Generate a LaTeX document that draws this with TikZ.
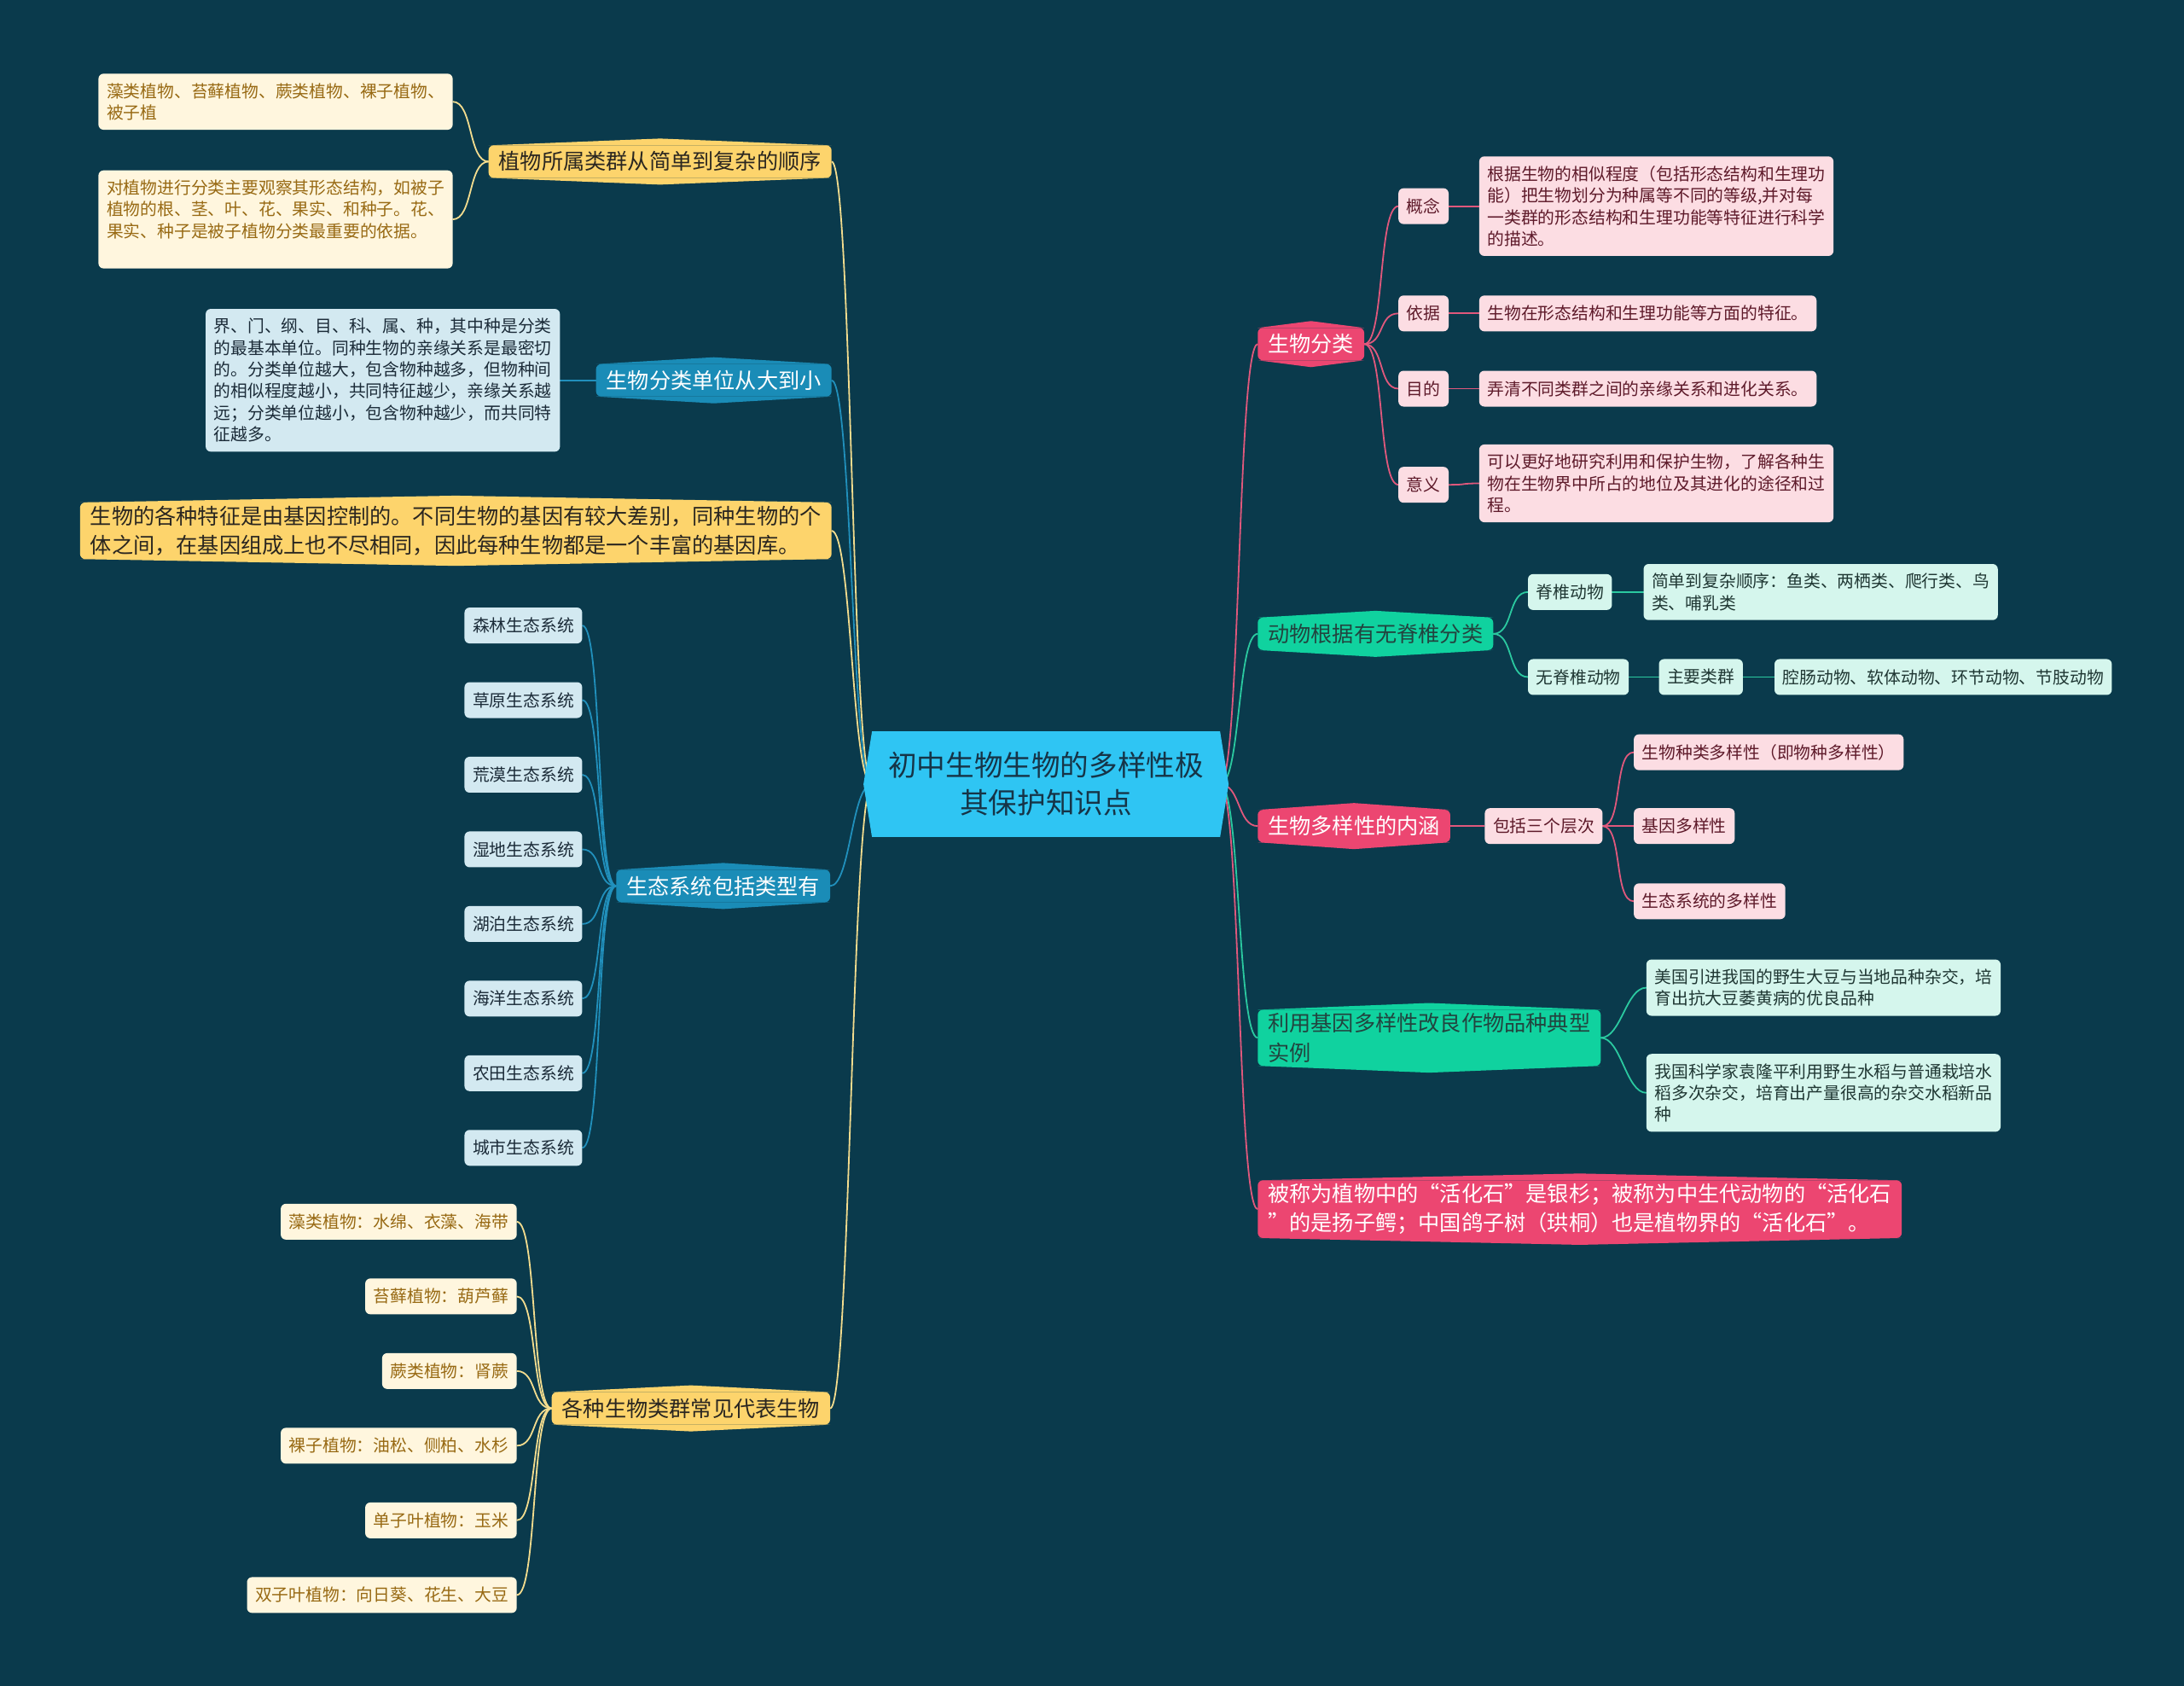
\documentclass[tikz,border=0pt]{standalone}
\usepackage{fontspec}
\setmainfont{Noto Sans CJK SC}
\usetikzlibrary{positioning}
\definecolor{MapBack}{HTML}{0A3A4C}
\definecolor{MapCore}{HTML}{2FC5F3}
\definecolor{MapCoreInk}{HTML}{163447}
\definecolor{MapGold}{HTML}{FDD46C}
\definecolor{MapGoldInk}{HTML}{2A2620}
\definecolor{MapGoldLine}{HTML}{F3DC8E}
\definecolor{MapCream}{HTML}{FFF6DE}
\definecolor{MapCreamInk}{HTML}{986A14}
\definecolor{MapBlue}{HTML}{1A8CB7}
\definecolor{MapBlueLine}{HTML}{2190BC}
\definecolor{MapIce}{HTML}{D3E9F1}
\definecolor{MapIceInk}{HTML}{1B2B38}
\definecolor{MapRose}{HTML}{EC4671}
\definecolor{MapRoseLine}{HTML}{E0587C}
\definecolor{MapBlush}{HTML}{FCDDE3}
\definecolor{MapBlushInk}{HTML}{5E1A2A}
\definecolor{MapMint}{HTML}{10D29F}
\definecolor{MapMintInk}{HTML}{22443F}
\definecolor{MapMintLine}{HTML}{2BC9A0}
\definecolor{MapFoam}{HTML}{D5F6ED}
\definecolor{MapFoamInk}{HTML}{1F3733}
\pgfdeclarelayer{paper}
\pgfdeclarelayer{wires}
\pgfsetlayers{paper,wires,main}
\tikzset{
  every node/.style={inner sep=0pt, outer sep=0pt},
  core/.style={fill=MapCore, text=MapCoreInk, minimum width=204pt, minimum height=62pt, align=center, font=\fontsize{16.8}{22}\selectfont},
  topic/.style={rounded corners=3pt, inner xsep=6pt, inner ysep=2pt, minimum height=19pt, align=left, font=\fontsize{12.6}{17.1}\selectfont},
  goldtopic/.style={topic, fill=MapGold, text=MapGoldInk},
  bluetopic/.style={topic, fill=MapBlue, text=white},
  rosetopic/.style={topic, fill=MapRose, text=white},
  minttopic/.style={topic, fill=MapMint, text=MapMintInk},
  leaf/.style={rounded corners=3pt, inner xsep=4.8pt, inner ysep=5.5pt, minimum height=21pt, align=left, font=\fontsize{9.9}{12.7}\selectfont},
  goldleaf/.style={leaf, fill=MapCream, text=MapCreamInk},
  iceleaf/.style={leaf, fill=MapIce, text=MapIceInk},
  blushleaf/.style={leaf, fill=MapBlush, text=MapBlushInk},
  foamleaf/.style={leaf, fill=MapFoam, text=MapFoamInk},
  link/.style={line width=0.9pt},
  goldlink/.style={link, draw=MapGoldLine},
  bluelink/.style={link, draw=MapBlueLine},
  roselink/.style={link, draw=MapRoseLine},
  mintlink/.style={link, draw=MapMintLine},
  toleft/.style={out=180, in=0, distance=12pt},
  toright/.style={out=0, in=180, distance=12pt},
}
\newcommand{\topicpeaks}[2]{%
  \fill[#2] (#1.north west) -- ([yshift=4pt]#1.north) -- (#1.north east) -- cycle;
  \fill[#2] (#1.south west) -- ([yshift=-4pt]#1.south) -- (#1.south east) -- cycle;}

\begin{document}
\begin{tikzpicture}[x=0.8163pt, y=-0.8163pt]
  \useasboundingbox (0,0) rectangle (1568,1210);
  \begin{pgfonlayer}{paper}
    \fill[MapBack] (0,0) rectangle (1568,1210);
  \end{pgfonlayer}

  % Central topic
  \node[core] (core) at (751,563) {初中生物生物的多样性极\\其保护知识点};
  \fill[MapCore] (core.north west) -- ([xshift=-5pt]core.west) -- (core.south west) -- cycle;
  \fill[MapCore] (core.north east) -- ([xshift=5pt]core.east) -- (core.south east) -- cycle;

  % Left: plant groups order
  \node[goldtopic, anchor=east] (seqplant) at (597,116) {植物所属类群从简单到复杂的顺序};
  \topicpeaks{seqplant}{MapGold}
  \node[goldleaf, anchor=east] (seqlist) at (325,73) {藻类植物、苔藓植物、蕨类植物、裸子植物、\\被子植};
  \node[goldleaf, anchor=east] (seqbasis) at (325,157.5) {对植物进行分类主要观察其形态结构，如被子\\植物的根、茎、叶、花、果实、和种子。花、\\果实、种子是被子植物分类最重要的依据。\\\mbox{}};

  % Left: classification ranks
  \node[bluetopic, anchor=east] (rank) at (597,273) {生物分类单位从大到小};
  \topicpeaks{rank}{MapBlue}
  \node[iceleaf, anchor=east] (ranknote) at (402,273) {界、门、纲、目、科、属、种，其中种是分类\\的最基本单位。同种生物的亲缘关系是最密切\\的。分类单位越大，包含物种越多，但物种间\\的相似程度越小，共同特征越少，亲缘关系越\\远；分类单位越小，包含物种越少，而共同特\\征越多。};

  % Left: genes
  \node[goldtopic, anchor=east] (gene) at (597,381) {生物的各种特征是由基因控制的。不同生物的基因有较大差别，同种生物的个\\体之间，在基因组成上也不尽相同，因此每种生物都是一个丰富的基因库。};
  \topicpeaks{gene}{MapGold}

  % Left: ecosystems
  \node[bluetopic, anchor=east] (eco) at (596,636) {生态系统包括类型有};
  \topicpeaks{eco}{MapBlue}
  \foreach \kind [count=\i] in {森林,草原,荒漠,湿地,湖泊,海洋,农田,城市}
    \node[iceleaf, anchor=east] (eco\i) at (418,{449+(\i-1)*53.57}) {\kind 生态系统};

  % Left: representative organisms
  \node[goldtopic, anchor=east] (reps) at (596,1011) {各种生物类群常见代表生物};
  \topicpeaks{reps}{MapGold}
  \foreach \sample [count=\i] in {藻类植物：水绵、衣藻、海带,苔藓植物：葫芦藓,蕨类植物：肾蕨,裸子植物：油松、侧柏、水杉,单子叶植物：玉米,双子叶植物：向日葵、花生、大豆}
    \node[goldleaf, anchor=east] (rep\i) at (371,{877+(\i-1)*53.6}) {\sample};

  % Right: classification
  \node[rosetopic, anchor=west] (classify) at (903,247) {生物分类};
  \topicpeaks{classify}{MapRose}
  \node[blushleaf, anchor=west] (concept) at (1004,148) {概念};
  \node[blushleaf, anchor=west] (conceptnote) at (1062,148) {根据生物的相似程度（包括形态结构和生理功\\能）把生物划分为种属等不同的等级,并对每\\一类群的形态结构和生理功能等特征进行科学\\的描述。};
  \node[blushleaf, anchor=west] (basis) at (1004,225) {依据};
  \node[blushleaf, anchor=west] (basisnote) at (1062,225) {生物在形态结构和生理功能等方面的特征。};
  \node[blushleaf, anchor=west] (aim) at (1004,279) {目的};
  \node[blushleaf, anchor=west] (aimnote) at (1062,279) {弄清不同类群之间的亲缘关系和进化关系。};
  \node[blushleaf, anchor=west] (meaning) at (1004,348) {意义};
  \node[blushleaf, anchor=west] (meaningnote) at (1062,347) {可以更好地研究利用和保护生物，了解各种生\\物在生物界中所占的地位及其进化的途径和过\\程。};

  % Right: vertebrates
  \node[minttopic, anchor=west] (spine) at (903,455) {动物根据有无脊椎分类};
  \topicpeaks{spine}{MapMint}
  \node[foamleaf, anchor=west] (verte) at (1097,425) {脊椎动物};
  \node[foamleaf, anchor=west] (vertenote) at (1180,425) {简单到复杂顺序：鱼类、两栖类、爬行类、鸟\\类、哺乳类};
  \node[foamleaf, anchor=west] (inverte) at (1097,486) {无脊椎动物};
  \node[foamleaf, anchor=west] (groups) at (1191,486) {主要类群};
  \node[foamleaf, anchor=west] (groupnote) at (1274,486) {腔肠动物、软体动物、环节动物、节肢动物};

  % Right: diversity levels
  \node[rosetopic, anchor=west] (diverse) at (903,593) {生物多样性的内涵};
  \topicpeaks{diverse}{MapRose}
  \node[blushleaf, anchor=west] (levels) at (1066,593) {包括三个层次};
  \node[blushleaf, anchor=west] (lvspecies) at (1173,540) {生物种类多样性（即物种多样性）};
  \node[blushleaf, anchor=west] (lvgene) at (1173,593) {基因多样性};
  \node[blushleaf, anchor=west] (lveco) at (1173,647) {生态系统的多样性};

  % Right: breeding examples
  \node[minttopic, anchor=west] (breed) at (903,745) {利用基因多样性改良作物品种典型\\实例};
  \topicpeaks{breed}{MapMint}
  \node[foamleaf, anchor=west] (soy) at (1182,709) {美国引进我国的野生大豆与当地品种杂交，培\\育出抗大豆萎黄病的优良品种};
  \node[foamleaf, anchor=west] (rice) at (1182,784.5) {我国科学家袁隆平利用野生水稻与普通栽培水\\稻多次杂交，培育出产量很高的杂交水稻新品\\种};

  % Right: living fossils
  \node[rosetopic, anchor=west] (fossil) at (903,868) {被称为植物中的“活化石”是银杉；被称为中生代动物的“活化石\\”的是扬子鳄；中国鸽子树（珙桐）也是植物界的“活化石”。};
  \topicpeaks{fossil}{MapRose}

  % Connectors
  \begin{pgfonlayer}{wires}
    \draw[goldlink] (core.west) to[toleft] (seqplant.east);
    \draw[bluelink] (core.west) to[toleft] (rank.east);
    \draw[goldlink] (core.west) to[toleft] (gene.east);
    \draw[bluelink] (core.west) to[toleft] (eco.east);
    \draw[goldlink] (core.west) to[toleft] (reps.east);
    \draw[roselink] (core.east) to[toright] (classify.west);
    \draw[mintlink] (core.east) to[toright] (spine.west);
    \draw[roselink] (core.east) to[toright] (diverse.west);
    \draw[mintlink] (core.east) to[toright] (breed.west);
    \draw[roselink] (core.east) to[toright] (fossil.west);
    \draw[goldlink] (seqplant.west) to[toleft] (seqlist.east);
    \draw[goldlink] (seqplant.west) to[toleft] (seqbasis.east);
    \draw[bluelink] (rank.west) to[toleft] (ranknote.east);
    \foreach \i in {1,...,8}
      \draw[bluelink] (eco.west) to[toleft] (eco\i.east);
    \foreach \i in {1,...,6}
      \draw[goldlink] (reps.west) to[toleft] (rep\i.east);
    \foreach \part in {concept,basis,aim,meaning}{
      \draw[roselink] (classify.east) to[toright] (\part.west);
      \draw[roselink] (\part.east) to[toright] (\part note.west);
    }
    \draw[mintlink] (spine.east) to[toright] (verte.west);
    \draw[mintlink] (spine.east) to[toright] (inverte.west);
    \draw[mintlink] (verte.east) to[toright] (vertenote.west);
    \draw[mintlink] (inverte.east) to[toright] (groups.west);
    \draw[mintlink] (groups.east) to[toright] (groupnote.west);
    \draw[roselink] (diverse.east) to[toright] (levels.west);
    \draw[roselink] (levels.east) to[toright] (lvspecies.west);
    \draw[roselink] (levels.east) to[toright] (lvgene.west);
    \draw[roselink] (levels.east) to[toright] (lveco.west);
    \draw[mintlink] (breed.east) to[toright] (soy.west);
    \draw[mintlink] (breed.east) to[toright] (rice.west);
  \end{pgfonlayer}
\end{tikzpicture}
\end{document}
